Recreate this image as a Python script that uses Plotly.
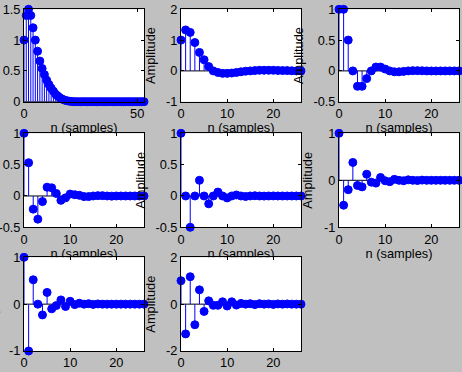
import plotly.graph_objects as go

W, H = 462, 372

# ---------------- data ----------------
n_long = list(range(54))
n_short = list(range(27))

resp1 = [1.0, 1.4, 1.5, 1.4, 1.2, 1.0, 0.82, 0.66, 0.54, 0.44, 0.35, 0.28, 0.22, 0.17,
         0.12, 0.09, 0.06, 0.04, 0.025, 0.015, 0.008, 0.004, 0.0, 0.0, 0.0, 0.0, 0.0,
         0.0, 0.0, 0.0, 0.0, 0.0, 0.0, 0.0, 0.0, 0.0, 0.0, 0.0, 0.0, 0.0, 0.0, 0.0,
         0.0, 0.0, 0.0, 0.0, 0.0, 0.0, 0.0, 0.0, 0.0, 0.0, 0.0, 0.0]
resp2 = [1.0, 1.33, 1.25, 0.92, 0.6, 0.36, 0.14, 0.0, -0.05, -0.08, -0.08, -0.07, -0.05,
         -0.03, -0.01, 0.0, 0.01, 0.02, 0.02, 0.02, 0.02, 0.015, 0.01, 0.01, 0.005, 0.0, 0.0]
resp3 = [1.0, 1.0, 0.5, 0.0, -0.25, -0.25, -0.125, 0.0, 0.0625, 0.0625, 0.03, 0.0, -0.015,
         -0.015, -0.008, 0.0, 0.004, 0.004, 0.002, 0.0, -0.001, -0.001, 0.0, 0.0, 0.0, 0.0, 0.0]
resp4 = [1.0, 0.53, -0.21, -0.37, -0.09, 0.14, 0.13, 0.04, -0.07, -0.03, 0.03, 0.02, 0.01,
         -0.01, -0.01, 0.0, 0.005, 0.005, 0.0, -0.003, 0.0, 0.0, 0.0, 0.0, 0.0, 0.0, 0.0]
resp5 = [1.0, 0.0, -0.5, 0.0, 0.25, 0.0, -0.125, 0.0, 0.0625, 0.0, -0.031, 0.0, 0.016,
         0.0, -0.008, 0.0, 0.004, 0.0, -0.002, 0.0, 0.001, 0.0, 0.0, 0.0, 0.0, 0.0, 0.0]
resp6 = [1.0, -0.53, -0.2, 0.38, -0.11, -0.14, 0.13, -0.04, -0.06, 0.06, -0.01, -0.03, 0.02,
         0.0, -0.01, 0.01, 0.0, -0.005, 0.004, 0.0, 0.0, 0.0, 0.0, 0.0, 0.0, 0.0, 0.0]
resp7 = [1.0, -1.0, 0.52, 0.0, -0.23, 0.25, -0.1, -0.03, 0.09, -0.05, 0.06, -0.01, 0.02,
         0.0, 0.01, -0.005, 0.005, 0.0, 0.0, 0.0, 0.0, 0.0, 0.0, 0.0, 0.0, 0.0, 0.0]
resp8 = [1.0, -1.27, 1.17, -0.88, 0.61, -0.31, 0.14, -0.05, -0.05, 0.1, -0.08, 0.1, -0.04,
         0.03, 0.0, 0.02, -0.02, 0.02, 0.0, 0.01, -0.01, 0.01, 0.0, 0.01, 0.0, 0.0, 0.0]

# ---------------- ticks ----------------
xt_long = [0, 50]
xt_long_lbl = ["0", "50"]
xt_short = [0, 10, 20]
xt_short_lbl = ["0", "10", "20"]
yt_a = [0, 0.5, 1, 1.5]
yt_a_lbl = ["0", "0.5", "1", "1.5"]
yt_b = [-1, 0, 1, 2]
yt_b_lbl = ["-1", "0", "1", "2"]
yt_c = [-0.5, 0, 0.5, 1]
yt_c_lbl = ["-0.5", "0", "0.5", "1"]
yt_d = [-1, 0, 1]
yt_d_lbl = ["-1", "0", "1"]
yt_e = [-2, 0, 2]
yt_e_lbl = ["-2", "0", "2"]

x_label = "n (samples)"
y_label = "Amplitude"

# (x, y, xlim, ylim, xticks, xticklabels, yticks, yticklabels, ylabel offset px)
panels = [
    (n_long, resp1, [0, 53], [0, 1.5], xt_long, xt_long_lbl, yt_a, yt_a_lbl, 36),
    (n_short, resp2, [0, 26], [-1, 2], xt_short, xt_short_lbl, yt_b, yt_b_lbl, 30.5),
    (n_short, resp3, [0, 26], [-0.5, 1], xt_short, xt_short_lbl, yt_c, yt_c_lbl, 40.5),
    (n_short, resp4, [0, 26], [-0.5, 1], xt_short, xt_short_lbl, yt_c, yt_c_lbl, 40.5),
    (n_short, resp5, [0, 26], [-0.5, 1], xt_short, xt_short_lbl, yt_c, yt_c_lbl, 40.5),
    (n_short, resp6, [0, 26], [-1, 1], xt_short, xt_short_lbl, yt_d, yt_d_lbl, 31.5),
    (n_short, resp7, [0, 26], [-1, 1], xt_short, xt_short_lbl, yt_d, yt_d_lbl, 31.5),
    (n_short, resp8, [0, 26], [-2, 2], xt_short, xt_short_lbl, yt_e, yt_e_lbl, 30.5),
]

# ---------------- layout geometry (pixels) ----------------
col_px = [(24, 144), (181, 301), (339, 459)]
row_px = [(9.3, 101.7), (133.3, 227.3), (257.3, 351)]
XLABEL_DY = 27.5

BLUE = "#0000ff"
FONT = dict(family="Liberation Sans, Arial, sans-serif", size=12.8, color="black")

fig = go.Figure()
layout = {}
shapes = []
annotations = []


def ax_names(k):
    s = "" if k == 1 else str(k)
    return "x" + s, "y" + s, "xaxis" + s, "yaxis" + s


for i, (xv, yv, xr, yr, xtv, xtl, ytv, ytl, ylab_off) in enumerate(panels):
    k = i + 1
    r, c = divmod(i, 3)
    xn, yn, xkey, ykey = ax_names(k)
    xd = [col_px[c][0] / W, col_px[c][1] / W]
    yd = [1 - row_px[r][1] / H, 1 - row_px[r][0] / H]

    sx, sy = [], []
    for n, v in zip(xv, yv):
        sx += [n, n, None]
        sy += [0, v, None]
    fig.add_trace(go.Scatter(x=sx, y=sy, mode="lines", line=dict(color=BLUE, width=1),
                             xaxis=xn, yaxis=yn, hoverinfo="skip", showlegend=False))
    fig.add_trace(go.Scatter(x=xv, y=yv, mode="markers", cliponaxis=False,
                             marker=dict(color=BLUE, size=8, line=dict(color=BLUE, width=1)),
                             xaxis=xn, yaxis=yn, hoverinfo="skip", showlegend=False))

    common = dict(ticks="inside", ticklen=3, tickcolor="black", showline=True,
                  mirror="ticks", linecolor="black", linewidth=1, showgrid=False,
                  zeroline=False, tickfont=FONT, fixedrange=True, automargin=False)
    layout[xkey] = dict(domain=xd, anchor=yn, range=xr, tickvals=xtv, ticktext=xtl, **common)
    layout[ykey] = dict(domain=yd, anchor=xn, range=yr, tickvals=ytv, ticktext=ytl, **common)

    shapes.append(dict(type="rect", xref=xn + " domain", yref=yn + " domain",
                       x0=0, x1=1, y0=0, y1=1, fillcolor="white", line=dict(width=0),
                       layer="below"))
    shapes.append(dict(type="line", xref=xn + " domain", yref=yn, x0=0, x1=1, y0=0, y1=0,
                       line=dict(color="black", width=1), layer="below"))

    # y label (may fall partly outside the window, as in the original)
    annotations.append(dict(text=y_label, textangle=-90, font=FONT, showarrow=False,
                            xref="paper", yref="paper",
                            x=(col_px[c][0] - ylab_off) / W,
                            y=1 - (row_px[r][0] + row_px[r][1]) / 2 / H,
                            xanchor="center", yanchor="middle"))

    # x label: drawn in a clipping strip so the next row of axes hides its lower part
    lab_y = row_px[r][1] + XLABEL_DY
    if r < 2:
        lk = 10 + k
        lxn, lyn, lxkey, lykey = ax_names(lk)
        top = row_px[r][1] + 14
        bot = row_px[r + 1][0] if (r == 0 or c < 2) else H
        ldom = [1 - bot / H, 1 - top / H]
        fig.add_trace(go.Scatter(x=[0.5], y=[lab_y], mode="text",
                                 text=[x_label], textposition="middle center",
                                 textfont=FONT, cliponaxis=True, xaxis=lxn, yaxis=lyn,
                                 hoverinfo="skip", showlegend=False))
        layout[lxkey] = dict(domain=xd, anchor=lyn, range=[0, 1], visible=False,
                             fixedrange=True, automargin=False)
        layout[lykey] = dict(domain=ldom, anchor=lxn, range=[bot, top], visible=False,
                             fixedrange=True, automargin=False)
    else:
        annotations.append(dict(text=x_label, font=FONT, showarrow=False,
                                xref="paper", yref="paper",
                                x=(col_px[c][0] + col_px[c][1]) / 2 / W,
                                y=1 - lab_y / H, xanchor="center", yanchor="middle"))

fig.update_layout(width=W, height=H, margin=dict(l=0, r=0, t=0, b=0, autoexpand=False),
                  paper_bgcolor="#c0c0c0", plot_bgcolor="rgba(0,0,0,0)",
                  showlegend=False, shapes=shapes, annotations=annotations, font=FONT,
                  **layout)

fig.write_html("out.html", config={"displayModeBar": False, "staticPlot": True},
               post_script="document.body.style.margin='0';document.body.style.padding='0';"
                           "document.body.style.overflow='hidden';")
